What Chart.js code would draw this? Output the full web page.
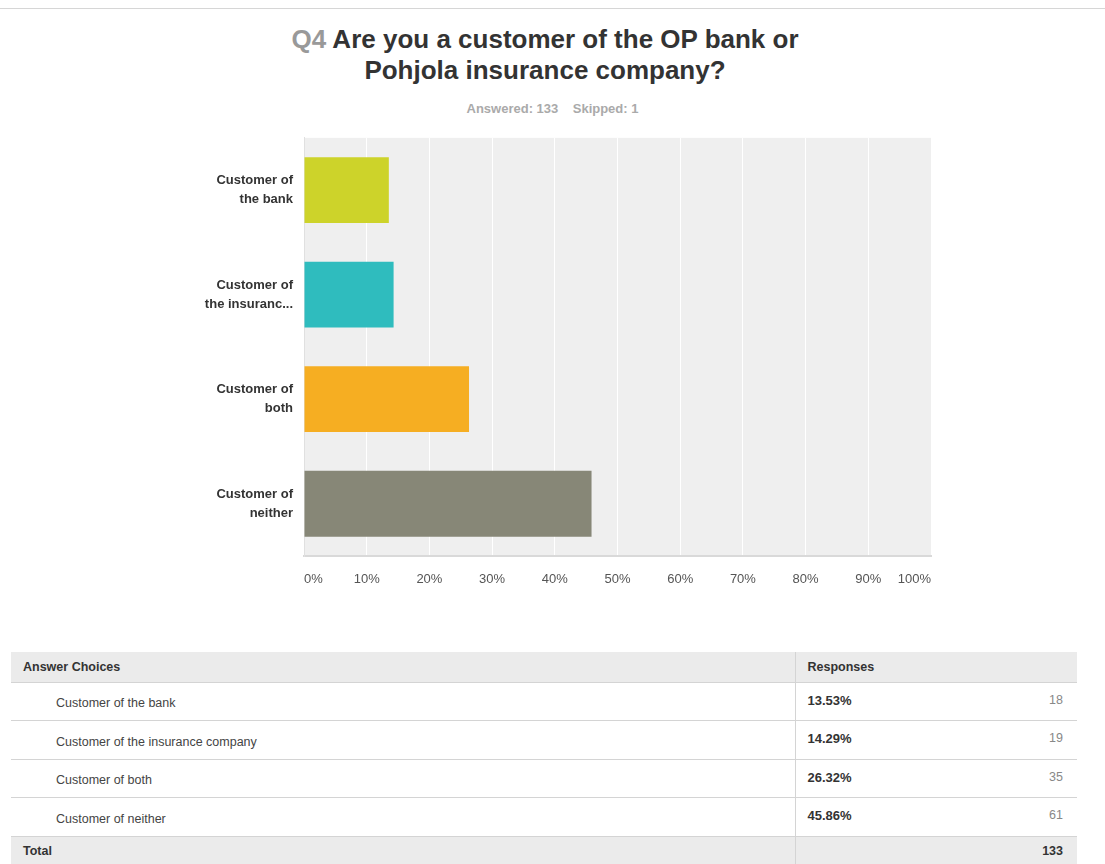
<!DOCTYPE html>
<html lang="en">
<head>
<meta charset="UTF-8">
<title>Q4 - OP bank or Pohjola</title>
<script src="https://cdn.jsdelivr.net/npm/chart.js@4.4.0/dist/chart.umd.min.js"></script>
<style>
  body { margin: 0; background: #fff; font-family: "Liberation Sans", Arial, sans-serif; }
  #page { position: relative; width: 1105px; height: 864px; overflow: hidden; }
  #topline { position: absolute; left: 0; top: 8px; width: 1105px; height: 1px; background: #d6d6d6; }
  #title { position: absolute; left: 0; width: 1090px; top: 24px; text-align: center;
           font-size: 26px; font-weight: bold; color: #333; line-height: 31px; }
  #title .q { color: #999; }
  #sub { position: absolute; left: 0; width: 1105px; top: 101px; text-align: center;
         font-size: 13px; font-weight: bold; color: #aaa; }
  #chartbox { position: absolute; left: 160px; top: 108px; width: 800px; height: 492px; }
  table { position: absolute; left: 11px; top: 652px; width: 1066px; border-collapse: collapse;
          table-layout: fixed; font-size: 12.5px; color: #333; }
  td, th { padding: 0 12px; text-align: left; border-bottom: 1.5px solid #d4d4d4; }
  tr { height: 38.5px; }
  tr.head { height: 30px; }
  th { background: #ebebeb; font-weight: bold; }
  td.lbl { padding-left: 45px; color: #444; vertical-align: middle; padding-top: 4px; }
  td.pct { font-weight: bold; font-size: 13px; border-left: 1px solid #d4d4d4; vertical-align: top; padding-top: 10px; }
  td.cnt { text-align: right; color: #888; padding-right: 14px; vertical-align: top; padding-top: 10px; }
  tr.total { height: 30px; }
  tr.total td { background: #ebebeb; font-weight: bold; padding-top: 0; vertical-align: middle; }
  tr.total td.cnt { color: #333; }
  th.resp { border-left: 1px solid #d4d4d4; }
</style>
</head>
<body>
<div id="page">
  <div id="topline"></div>
  <div id="title"><span class="q">Q4</span> Are you a customer of the OP bank or<br>Pohjola insurance company?</div>
  <div id="sub">Answered: 133 &nbsp;&nbsp; Skipped: 1</div>
  <div id="chartbox"><canvas id="bar_q4"></canvas></div>
  <table id="tbl">
    <colgroup><col style="width:784px"><col style="width:160px"><col style="width:122px"></colgroup>
  </table>
</div>

<script>
    // answer choices and results
    const choices = ['Customer of the bank', 'Customer of the insurance company', 'Customer of both', 'Customer of neither'];
    const axis_labels = [['Customer of', 'the bank'], ['Customer of', 'the insuranc...'], ['Customer of', 'both'], ['Customer of', 'neither']];
    const percents = [13.53, 14.29, 26.32, 45.86];
    const counts = [18, 19, 35, 61];
    const total = 133;
    const bar_colors = ['#cdd32a', '#2fbcbe', '#f6ae22', '#878777'];

    // grey plot background
    const plotBg = {
        id: 'plotBg',
        beforeDraw(chart) {
            const a = chart.chartArea, ctx = chart.ctx;
            ctx.save();
            ctx.fillStyle = '#efefef';
            ctx.fillRect(a.left, a.top, a.right - a.left, a.bottom - a.top);
            ctx.restore();
        }
    };

    const ctx = document.getElementById('bar_q4').getContext('2d');
    const myChart = new Chart(ctx, {
        type: 'bar',
        data: {
            labels: axis_labels,
            datasets: [{
                data: percents,
                backgroundColor: bar_colors,
                borderWidth: 0,
                categoryPercentage: 1,
                barPercentage: 0.63,
            }]
        },
        options: {
            indexAxis: 'y',
            responsive: true,
            maintainAspectRatio: false,
            animation: false,
            layout: { padding: { top: 9, right: 29, left: 0, bottom: 0 } },
            plugins: {
                legend: { display: false },
                tooltip: { enabled: false },
            },
            scales: {
                x: {
                    min: 0,
                    max: 100,
                    afterFit: s => { s.height = 44; },
                    grid: { color: '#ffffff', lineWidth: 1, drawTicks: false },
                    border: { color: '#d9d9d9', width: 2 },
                    ticks: {
                        stepSize: 10,
                        padding: 16,
                        align: 'inner',
                        color: '#555',
                        font: { family: 'Liberation Sans', size: 13 },
                        callback: v => v + '%',
                    }
                },
                y: {
                    afterFit: s => { s.width = 144; },
                    grid: { display: false, drawTicks: false },
                    border: { color: '#e0e0e0', width: 1 },
                    ticks: {
                        padding: 11,
                        color: '#333',
                        font: { family: 'Liberation Sans', size: 13, weight: 'bold', lineHeight: 1.45 },
                    }
                }
            }
        },
        plugins: [plotBg]
    });

    // the responses table under the chart
    var html = '<tr class="head"><th>Answer Choices</th><th class="resp" colspan="2">Responses</th></tr>';
    for (let i = 0; i < choices.length; i++) {
        html += '<tr><td class="lbl">' + choices[i] + '</td><td class="pct">' + percents[i].toFixed(2) + '%</td><td class="cnt">' + counts[i] + '</td></tr>';
    }
    html += '<tr class="total"><td>Total</td><td class="pct"></td><td class="cnt">' + total + '</td></tr>';
    document.getElementById('tbl').insertAdjacentHTML('beforeend', html);
</script>
</body>
</html>
